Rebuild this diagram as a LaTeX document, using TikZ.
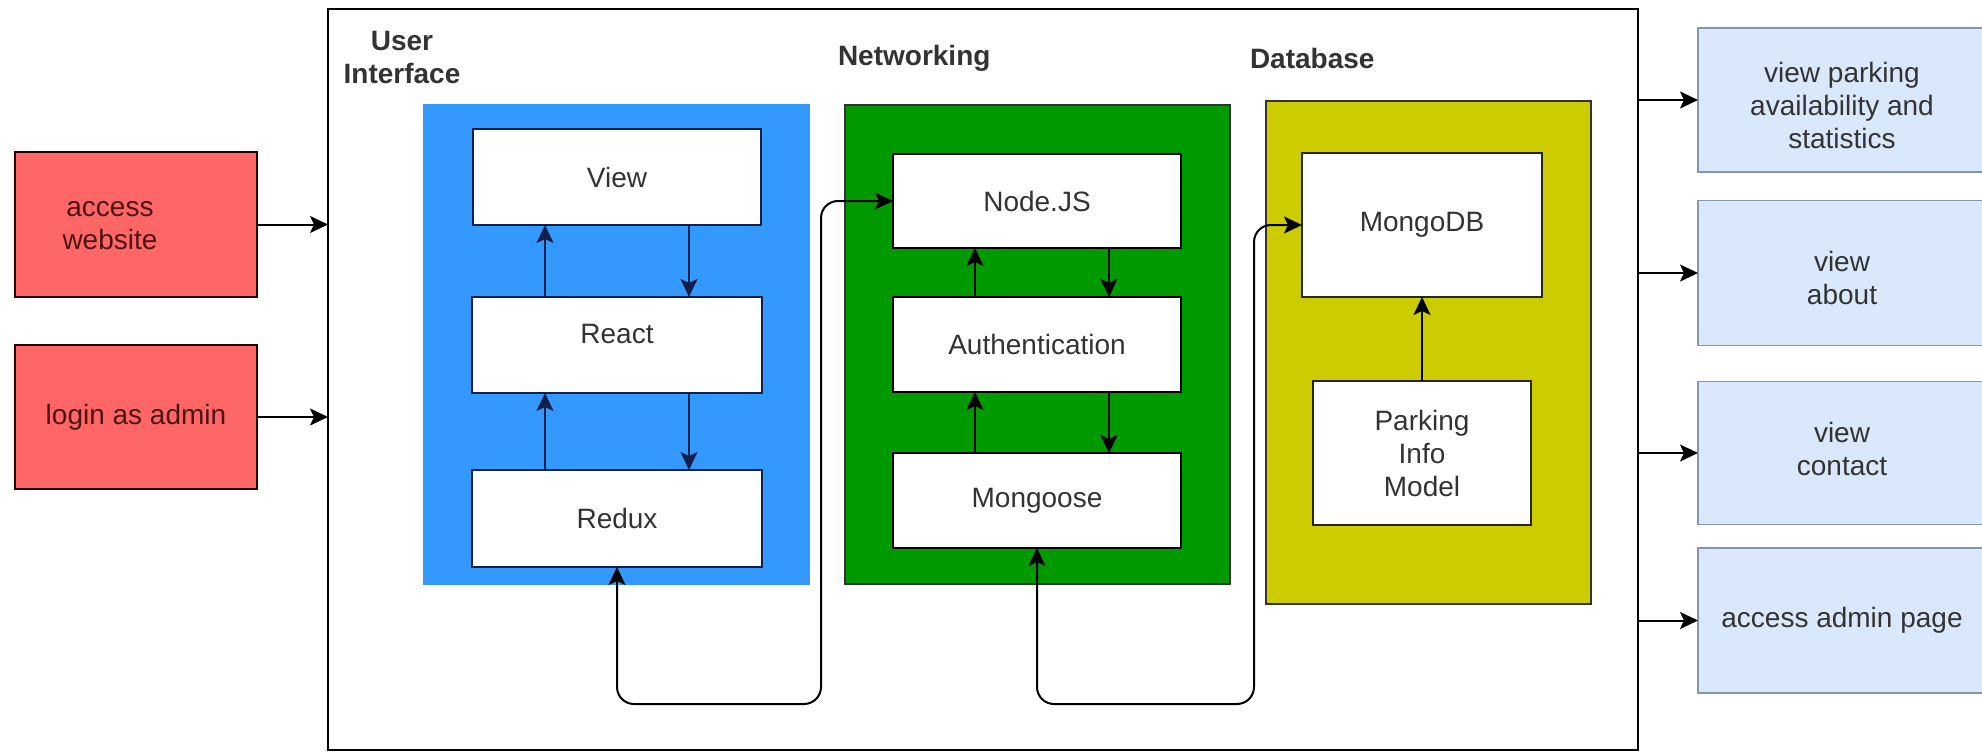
\documentclass[tikz,border=0pt]{standalone}
\usepackage{fontspec}
\setmainfont{Liberation Sans}
\usetikzlibrary{arrows.meta}
\definecolor{redfill}{HTML}{FF6666}
\definecolor{redtext}{HTML}{4D1414}
\definecolor{bluefill}{HTML}{3399FF}
\definecolor{navy}{HTML}{10204A}
\definecolor{greenfill}{HTML}{009900}
\definecolor{yellowfill}{HTML}{CCCC00}
\definecolor{lightblue}{HTML}{DAE8FC}
\definecolor{lightblueline}{HTML}{8496B0}
\definecolor{txt}{HTML}{333333}
\begin{document}
\begin{tikzpicture}[x=1pt,y=-1pt,
  font=\fontsize{28}{33}\selectfont,
  every node/.style={inner sep=0pt,outer sep=0pt,text=txt,align=center},
  sz/.style 2 args={rectangle,minimum width=#1pt,minimum height=#2pt},
  region/.style={line width=2pt},
  whitebox/.style={draw=black,fill=white,line width=2pt},
  redbox/.style={draw=black!85!red,fill=redfill,line width=2pt,text=redtext},
  actbox/.style={draw=lightblueline,fill=lightblue,line width=1.6pt},
  lbl/.style={font=\fontsize{28}{33}\selectfont\bfseries},
  arr/.style={line width=2pt,-{Stealth[length=18pt,width=17pt,inset=4pt]}},
  conn/.style={line width=2pt,rounded corners=17pt,{Stealth[length=18pt,width=17pt,inset=4pt]}-{Stealth[length=18pt,width=17pt,inset=4pt]}}
]
\useasboundingbox (0,0) rectangle (1982,752);
\fill[white] (0,0) rectangle (1982,752);

% outer frame
\node[sz={1310}{741},draw=black,line width=2.5pt] (outer) at (983,379.5) {};

% left actions
\node[sz={242}{145},redbox] (red1) at (136,224.5) {};
\node[text=redtext] (red1t) at (110,226) {access\\website};
\node[sz={242}{144},redbox] (red2) at (136,417) {login as admin};

% labels
\node[lbl] (uilbl) at (402,58) {User\\Interface};
\node[lbl,anchor=west] (netlbl) at (838,58) {Networking};
\node[lbl,anchor=west] (dblbl) at (1250,58) {Database};

% user interface
\node[sz={387}{481},region,fill=bluefill] (blue) at (616.5,344.5) {};
\node[sz={288}{96},whitebox,draw=navy] (view) at (617,177) {View};
\node[sz={290}{96},whitebox,draw=navy] (react) at (617,345) {};
\node (reactt) at (617,334) {React};
\node[sz={290}{97},whitebox,draw=navy] (redux) at (617,518.5) {Redux};

% networking
\node[sz={385}{479},region,draw=black!80,fill=greenfill] (green) at (1037.5,344.5) {};
\node[sz={288}{94},whitebox] (nodejs) at (1037,201) {Node.JS};
\node[sz={288}{95},whitebox] (auth) at (1037,344.5) {Authentication};
\node[sz={288}{95},whitebox] (mongoose) at (1037,500.5) {Mongoose};

% database
\node[sz={325}{503},region,draw=black!80,fill=yellowfill] (yellow) at (1428.5,352.5) {};
\node[sz={240}{144},whitebox,draw=black!85] (mongodb) at (1422,225) {MongoDB};
\node[sz={218}{144},whitebox,draw=black!85] (parking) at (1422,453) {Parking\\Info\\Model};

% right actions
\node[sz={288}{144},actbox] (r1) at (1842,100) {};
\node (r1t) at (1842,105) {view parking\\availability and\\statistics};
\node[sz={288}{145},actbox] (r2) at (1842,273) {};
\node (r2t) at (1842,278) {view\\about};
\node[sz={288}{143},actbox] (r3) at (1842,453) {};
\node (r3t) at (1842,449) {view\\contact};
\node[sz={288}{145},actbox] (r4) at (1842,620.5) {access admin page};

% arrows in
\draw[arr] (red1.east) -- (red1.east -| outer.west);
\draw[arr] (red2.east) -- (red2.east -| outer.west);

% arrows out
\draw[arr] (outer.east |- r1.west) -- (r1.west);
\draw[arr] (outer.east |- r2.west) -- (r2.west);
\draw[arr] (outer.east |- r3.west) -- (r3.west);
\draw[arr] (outer.east |- r4.west) -- (r4.west);

% UI internal
\draw[arr,draw=navy] ([xshift=72pt]view.south) -- ([xshift=72pt]react.north);
\draw[arr,draw=navy] ([xshift=-72pt]react.north) -- ([xshift=-72pt]view.south);
\draw[arr,draw=navy] ([xshift=72pt]react.south) -- ([xshift=72pt]redux.north);
\draw[arr,draw=navy] ([xshift=-72pt]redux.north) -- ([xshift=-72pt]react.south);

% networking internal
\draw[arr] ([xshift=72pt]nodejs.south) -- ([xshift=72pt]auth.north);
\draw[arr] ([xshift=-62pt]auth.north) -- ([xshift=-62pt]nodejs.south);
\draw[arr] ([xshift=72pt]auth.south) -- ([xshift=72pt]mongoose.north);
\draw[arr] ([xshift=-62pt]mongoose.north) -- ([xshift=-62pt]auth.south);

% database internal
\draw[arr] (parking.north) -- (parking.north |- mongodb.south);

% long connectors
\coordinate (c1) at (821,704);
\coordinate (c2) at (1254,704);
\draw[conn] (redux.south) |- (c1) |- (nodejs.west);
\draw[conn] (mongoose.south) |- (c2) |- (mongodb.west);
\end{tikzpicture}
\end{document}
